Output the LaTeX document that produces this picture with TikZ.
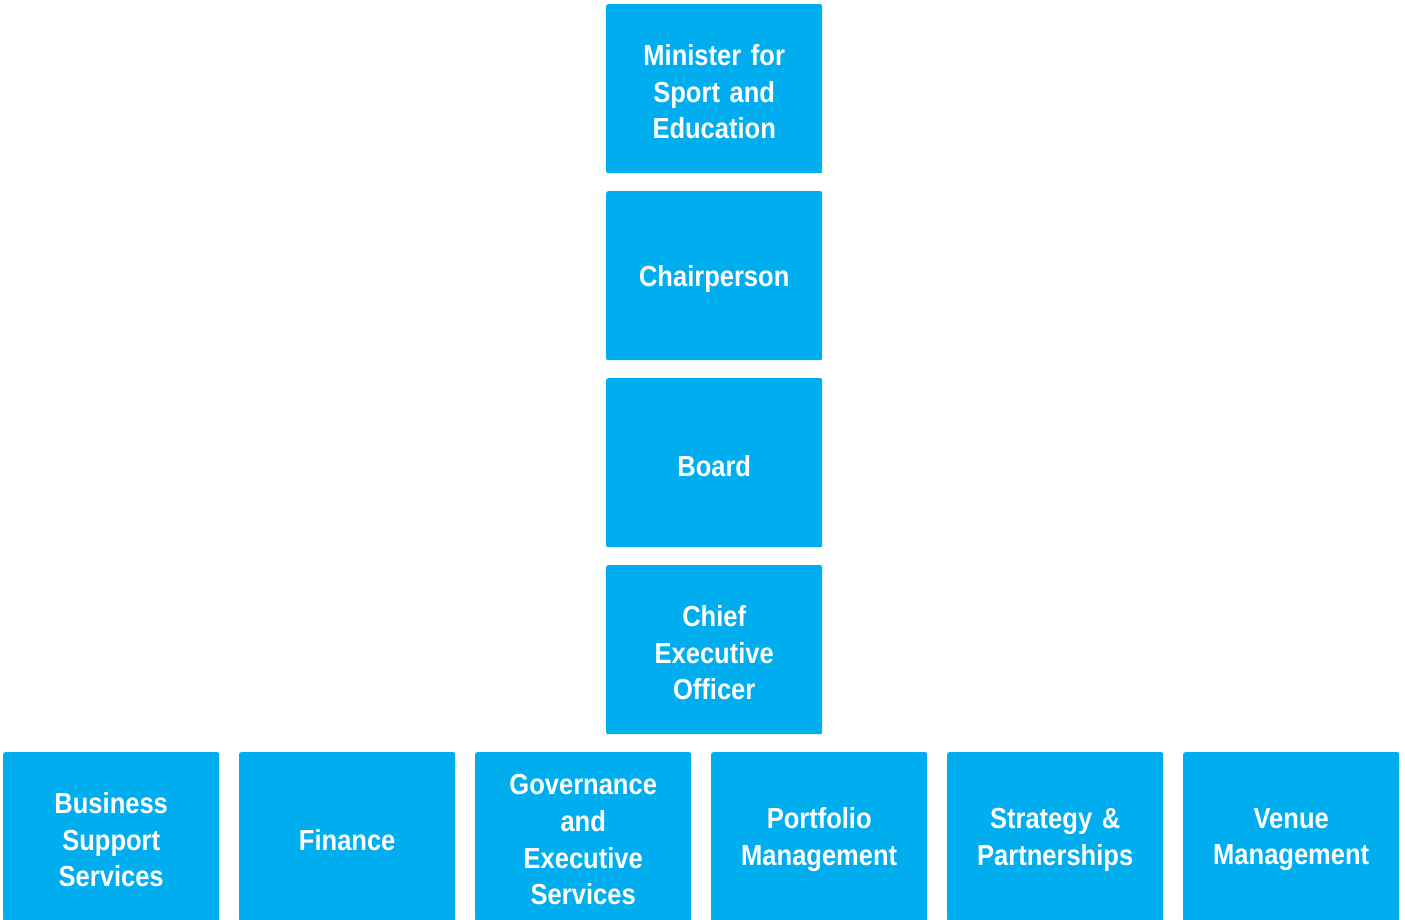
\documentclass[tikz,border=0pt]{standalone}
\usepackage{fontspec}
\setmainfont{Liberation Sans}[FakeStretch=0.88]
\definecolor{boxblue}{HTML}{00AEEF}
\begin{document}
\begin{tikzpicture}[x=1pt,y=-1pt,
  orgbox/.style={fill=boxblue, draw=none, rounded corners=2pt, minimum width=216pt, minimum height=169pt,
    inner sep=0pt, anchor=north west},
  orgtext/.style={text=white, font=\fontsize{29}{36.7}\selectfont\bfseries, align=center, text width=210pt,
    inner sep=0pt, yshift=-3pt}]
\useasboundingbox (0,0) rectangle (1405,920);
\begin{scope}
\clip (0,0) rectangle (1405,920);
\node[orgbox, label={[orgtext]center:Minister for\\Sport and\\Education}] (min) at (606,4) {};
\node[orgbox, label={[orgtext]center:Chairperson}] (chair) at (606,191) {};
\node[orgbox, label={[orgtext]center:Board}] (board) at (606,378) {};
\node[orgbox, label={[orgtext]center:Chief\\Executive\\Officer}] (ceo) at (606,565) {};
\node[orgbox, label={[orgtext]center:Business\\Support\\Services}] (bss) at (3,752) {};
\node[orgbox, label={[orgtext]center:Finance}] (fin) at (239,752) {};
\node[orgbox, label={[orgtext]center:Governance\\and\\Executive\\Services}] (ges) at (475,752) {};
\node[orgbox, label={[orgtext]center:Portfolio\\Management}] (pm) at (711,752) {};
\node[orgbox, label={[orgtext]center:Strategy \&\\Partnerships}] (sp) at (947,752) {};
\node[orgbox, label={[orgtext]center:Venue\\Management}] (vm) at (1183,752) {};
\end{scope}
\end{tikzpicture}
\end{document}
